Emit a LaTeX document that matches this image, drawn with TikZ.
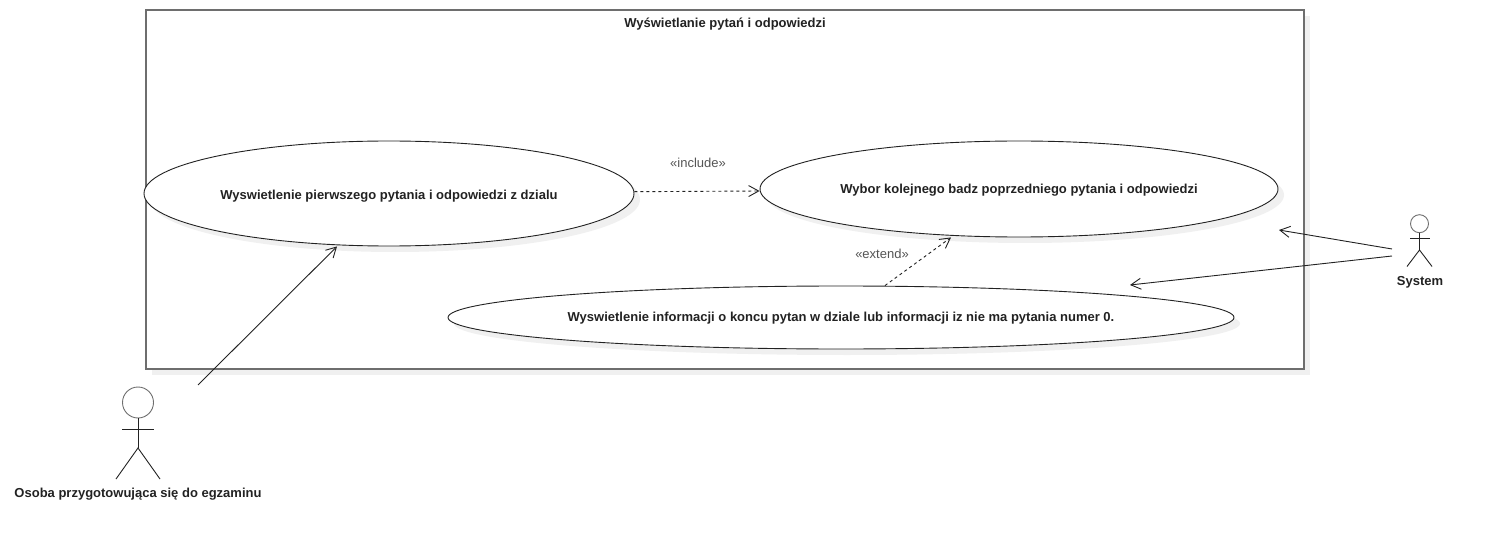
\documentclass[tikz,border=0pt]{standalone}
\usepackage{fontspec}
\setmainfont{Liberation Sans}
\usetikzlibrary{shapes.geometric,shadows,arrows.meta}
\definecolor{edgegray}{HTML}{6E6E6E}
\definecolor{shade}{HTML}{F0F0F0}
\definecolor{inkc}{HTML}{222222}
\definecolor{labelc}{HTML}{555555}
\tikzset{
  softshadow/.style={drop shadow={shadow xshift=6pt,shadow yshift=-6pt,fill=shade,opacity=1}},
  usecase/.style={ellipse,draw=inkc,line width=0.9pt,fill=white,softshadow,inner sep=0pt,text=inkc,font=\bfseries\fontsize{13}{15}\selectfont},
  sysbox/.style={rectangle,draw=edgegray,line width=1.4pt,fill=white,softshadow,inner sep=0pt,minimum width=1158pt,minimum height=359pt},
  boldlabel/.style={inner sep=0pt,text=inkc,font=\bfseries\fontsize{13}{15}\selectfont},
  stereo/.style={inner sep=0pt,text=labelc,font=\fontsize{13}{15}\selectfont},
  actorhead/.style={circle,draw=edgegray,line width=0.9pt,inner sep=0pt},
  stick/.style={draw=inkc,line width=0.9pt},
  assoc/.style={draw=inkc,line width=0.9pt,-{Straight Barb[length=10pt,width=11pt,line width=0.9pt]}},
  depend/.style={draw=inkc,line width=0.9pt,dash pattern=on 3pt off 3pt,-{Straight Barb[length=10pt,width=11pt,line width=0.9pt]}}
}
\begin{document}
\begin{tikzpicture}[x=1pt,y=-1pt]
\useasboundingbox (0,0) rectangle (1487,545);
\node[sysbox] (sys) at (725,189.5) {};
\node[boldlabel] (title) at (725,24.5) {Wyświetlanie pytań i odpowiedzi};
\node[usecase,minimum width=490pt,minimum height=105pt] (ua) at (389,193.5) {\raisebox{-6pt}[0pt][0pt]{Wyswietlenie pierwszego pytania i odpowiedzi z dzialu}};
\node[usecase,minimum width=518pt,minimum height=96pt] (ub) at (1019,189) {\raisebox{-4.5pt}[0pt][0pt]{Wybor kolejnego badz poprzedniego pytania i odpowiedzi}};
\node[usecase,minimum width=786pt,minimum height=63pt] (uc) at (841,317.5) {\raisebox{-4pt}[0pt][0pt]{Wyswietlenie informacji o koncu pytan w dziale lub informacji iz nie ma pytania numer 0.}};
\node[stereo] (linc) at (698,163) {«include»};
\node[stereo] (lext) at (882,254) {«extend»};
% actor: person
\node[actorhead,minimum size=31pt] (pa) at (138,402.5) {};
\coordinate (pneck) at (138,448);
\draw[stick] (pa.south) -- (pneck);
\draw[stick] (122,429) -- (154,429);
\draw[stick] (116,479) -- (pneck) -- (160,479);
\node[boldlabel] (pl) at (138,494) {Osoba przygotowująca się do egzaminu};
% actor: system
\node[actorhead,minimum size=18pt] (sa) at (1419.5,223.7) {};
\coordinate (sneck) at (1419.5,250);
\draw[stick] (sa.south) -- (sneck);
\draw[stick] (1410,238.7) -- (1429.5,238.7);
\draw[stick] (1407,266.5) -- (sneck) -- (1432,266.5);
\node[boldlabel] (sl) at (1420,282) {System};
% connectors
\coordinate (pfree) at (198,385);
\coordinate (sfa) at (1392,249);
\coordinate (sfb) at (1392,256);
\coordinate (ta) at (1279,230);
\coordinate (tb) at (1130,285);
\draw[assoc] (pfree) -- ([xshift=-52pt]ua.south);
\draw[assoc] (sfa) -- (ta);
\draw[assoc] (sfb) -- (tb);
\draw[depend] ([yshift=1.8pt]ua.east) -- ([yshift=-2pt]ub.west);
\draw[depend] ([xshift=44pt]uc.north) -- ([xshift=-68pt]ub.south);
\end{tikzpicture}
\end{document}
